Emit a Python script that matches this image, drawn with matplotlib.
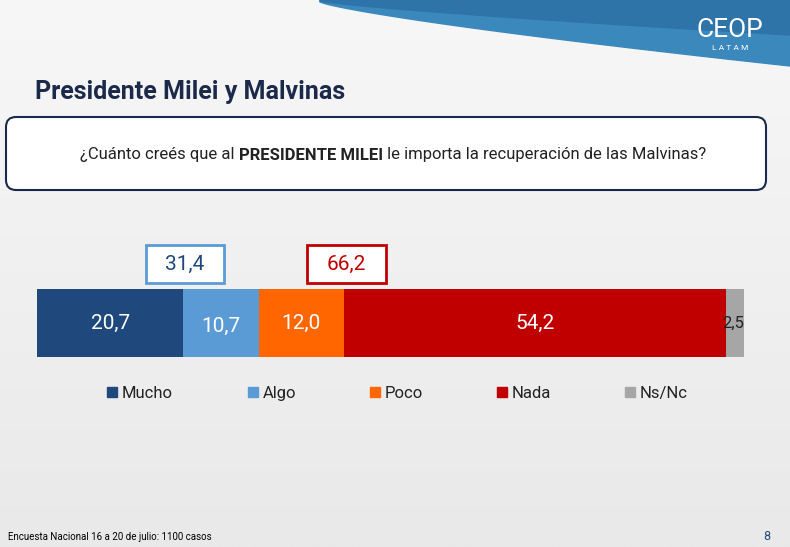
import matplotlib
matplotlib.use("Agg")
import matplotlib.pyplot as plt
from matplotlib.patches import FancyBboxPatch, Rectangle, Polygon
import numpy as np

categories = ["Mucho", "Algo", "Poco", "Nada", "Ns/Nc"]
values = [20.7, 10.7, 12.0, 54.2, 2.5]
labels = ["20,7", "10,7", "12,0", "54,2", "2,5"]
colors = ["#1f497d", "#5b9bd5", "#ff6600", "#c00000", "#a6a6a6"]
sum_pos, sum_neg = "31,4", "66,2"

plt.rcParams['font.family'] = ['Roboto', 'DejaVu Sans']
W, H = 790, 547
fig = plt.figure(figsize=(7.9, 5.47), dpi=100)
bg = fig.add_axes([0, 0, 1, 1])
bg.set_xlim(0, W); bg.set_ylim(H, 0); bg.axis('off')
grad = np.linspace(0, 1, 256).reshape(-1, 1)
bg.imshow(grad, extent=[0, W, H, 0], cmap=matplotlib.colors.LinearSegmentedColormap.from_list('g', ['#f7f7f7', '#e9e9e9']), aspect='auto', zorder=0)
# top wave
xs = np.linspace(320, 790, 100)
ys = 2 + 64 * ((xs - 320) / 470) ** 0.8
bg.add_patch(Polygon(list(zip(xs, ys)) + [(790, 0), (320, 0)], closed=True, color='#3b88bd', zorder=1))
ys2 = 1 + 34 * ((xs - 320) / 470) ** 0.8
bg.add_patch(Polygon(list(zip(xs, ys2)) + [(790, 0), (320, 0)], closed=True, color='#2f74a8', zorder=1))
bg.text(730, 30, "CEOP", color='white', fontsize=19, ha='center', va='center', zorder=2)
bg.text(730, 48, "L A T A M", color='white', fontsize=6, ha='center', va='center', zorder=2)
bg.text(35, 92, "Presidente Milei y Malvinas", color='#1b2a4a', fontsize=18, fontweight='bold', ha='left', va='center')
bg.add_patch(FancyBboxPatch((6, 117), 760, 73, boxstyle="round,pad=0,rounding_size=10", fc='white', ec='#1b2a4a', lw=1.5, zorder=2))
t1 = bg.text(80, 155, "¿Cuánto creés que al ", fontsize=12, ha='left', va='center', color='#222222', zorder=3)
fig.canvas.draw()
r = fig.canvas.get_renderer()
def nxt(t):
    bb = t.get_window_extent(r)
    return bg.transData.inverted().transform((bb.x1, bb.y0))[0]
t2 = bg.text(nxt(t1), 155, "PRESIDENTE MILEI", fontsize=12, fontweight='bold', ha='left', va='center', color='#222222', zorder=3)
fig.canvas.draw()
bg.text(nxt(t2), 155, " le importa la recuperación de las Malvinas?", fontsize=12, ha='left', va='center', color='#222222', zorder=3)
bg.add_patch(Rectangle((146, 245), 78, 38, fc='white', ec='#5b9bd5', lw=2, zorder=2))
bg.text(185, 264, sum_pos, fontsize=15, ha='center', va='center', color='#1f497d', zorder=3)
bg.add_patch(Rectangle((307, 245), 79, 38, fc='white', ec='#c00000', lw=2, zorder=2))
bg.text(346, 264, sum_neg, fontsize=15, ha='center', va='center', color='#c00000', zorder=3)
legx = [107, 248, 370, 497, 625]
for x, c, n in zip(legx, colors, categories):
    bg.add_patch(Rectangle((x, 387), 10, 10, color=c, zorder=2))
    bg.text(x + 15, 398, n, fontsize=12, va='baseline', ha='left', color='#222222')
bg.text(8, 537, "Encuesta Nacional 16 a 20 de julio: 1100 casos", fontsize=7, va='center')
bg.text(767, 537, "8", fontsize=9, va='center', ha='center', color='#1f497d')

total = sum(values)
ax = fig.add_axes([37 / W, 1 - 357 / H, 707 / W, 68 / H])
ax.set_xlim(0, total); ax.set_ylim(-0.5, 0.5); ax.axis('off')
left = 0
for v, c, l in zip(values, colors, labels):
    ax.barh(0, v, left=left, color=c, height=1.0)
    if v < 5:
        ax.text(left + v, 0, l, ha='right', va='center', fontsize=12, color='#222222')
    else:
        ax.text(left + v / 2, -0.05 if c == "#5b9bd5" else 0, l, ha='center', va='center', fontsize=15, color='white')
    left += v
fig.savefig("out.png", dpi=100)
